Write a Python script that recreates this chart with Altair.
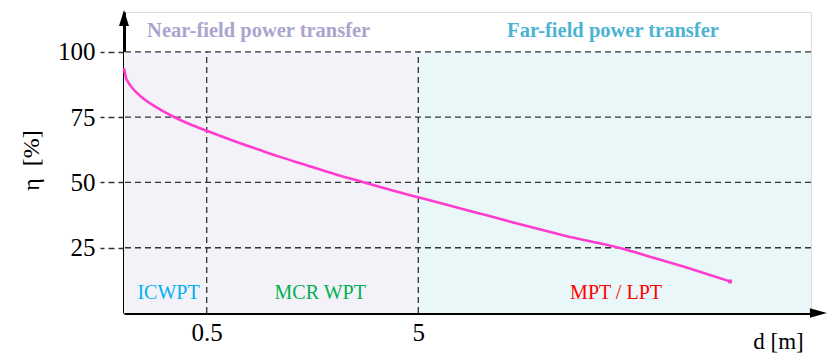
import altair as alt
import pandas as pd

# ---- data ----
d_vals = [0.2033, 0.2078, 0.2123, 0.2242, 0.2420, 0.2583, 0.2797, 0.3108, 0.3541, 0.4170,
          0.5, 0.6930, 0.8932, 1.1105, 1.4307, 2.058, 2.748, 3.674,
          5.0, 7.318, 10.525, 15.123, 21.73, 26.06, 30.68, 37.43, 44.89, 64.5, 92.7, 119.5, 148.6]
eta_vals = [93.8, 90.1, 88.5, 85.9, 83.2, 81.4, 79.5, 77.3, 74.9, 72.3,
            69.8, 65.5, 62.4, 59.8, 57.0, 53.0, 50.1, 47.2,
            44.3, 40.8, 37.4, 34.0, 30.7, 29.1, 27.9, 26.4, 24.9, 21.2, 17.4, 14.6, 12.1]

region_start = [0.2033, 5.0]
region_end = [5.0, 358.8]
region_top = [100, 100]
region_fill = ["#f3f2f9", "#e9f7f9"]

grid_y = [25, 50, 75, 100]
vline_x = [0.5, 5]

field_text = ["Near-field power transfer", "Far-field power transfer"]
field_x = [0.88, 41.6]
field_y = [108, 108]
field_color = ["#aaa5cc", "#4db3d2"]

tech_text = ["ICWPT", "MCR WPT", "MPT / LPT"]
tech_x = [0.33, 1.72, 43.0]
tech_y = [7.7, 7.7, 7.7]
tech_color = ["#00b0f0", "#00b050", "#ff0000"]

X_DOMAIN = [0.2033, 358.8]
Y_DOMAIN = [0, 115.3]
FONT = "Liberation Serif"
LINE_COLOR = "#ff3ccf"

xs = alt.Scale(type="log", domain=X_DOMAIN, nice=False)
ys = alt.Scale(domain=Y_DOMAIN, nice=False, zero=False)

ax_x = alt.Axis(
    values=vline_x, format="~g", ticks=False, grid=False,
    labelFont=FONT, labelFontSize=25, labelColor="black", labelPadding=7,
    domainColor="black", domainWidth=3,
    title="d [m]", titleFont=FONT, titleFontSize=23, titleFontWeight="normal",
    titleColor="black", titleX=654, titleY=28, titleAlign="center",
    titleBaseline="middle")
ax_y = alt.Axis(
    values=grid_y, grid=False, tickSize=24, tickDash=[6, 4], tickColor="#333333",
    tickWidth=1.3, labelFont=FONT, labelFontSize=25, labelColor="black",
    labelPadding=5, domainColor="black", domainWidth=3,
    title="η\u00a0 [%]", titleFont=FONT, titleFontSize=24,
    titleFontWeight="normal", titleColor="black", titleX=-93, titleY=148,
    titleAlign="center", titleBaseline="middle")


def X(field):
    return alt.X(field, scale=xs, axis=ax_x)


def Y(field):
    return alt.Y(field, scale=ys, axis=ax_y)


regions = pd.DataFrame({"x": region_start, "x1": region_end, "y1": region_top,
                        "y": [0, 0], "c": region_fill})
curve = pd.DataFrame({"x": d_vals, "y": eta_vals})
end_pt = curve.tail(1)
hgrid = pd.DataFrame({"y": grid_y})
vgrid = pd.DataFrame({"x": vline_x, "y": [0, 0], "y1": [100, 100]})
fields = pd.DataFrame({"t": field_text, "x": field_x, "y": field_y, "c": field_color})
techs = pd.DataFrame({"t": tech_text, "x": tech_x, "y": tech_y, "c": tech_color})
arrow_y = pd.DataFrame({"x": [X_DOMAIN[0]], "y": [113.0]})
arrow_x = pd.DataFrame({"x": [389.0], "y": [0.0]})

bg = alt.Chart(regions).mark_rect().encode(
    x=X("x:Q"), x2="x1:Q", y=Y("y:Q"), y2="y1:Q",
    color=alt.Color("c:N", scale=None),
)

hlines = alt.Chart(hgrid).mark_rule(strokeDash=[6, 4], color="#333333", strokeWidth=1.3).encode(
    y=Y("y:Q")
)

vlines = alt.Chart(vgrid).mark_rule(strokeDash=[6, 4], color="#333333", strokeWidth=1.3).encode(
    x=X("x:Q"), y=Y("y:Q"), y2="y1:Q",
)

line = alt.Chart(curve).mark_line(color=LINE_COLOR, strokeWidth=2.6, interpolate="monotone").encode(
    x=X("x:Q"), y=Y("y:Q"),
)

dot = alt.Chart(end_pt).mark_point(filled=True, color=LINE_COLOR, size=20, opacity=1).encode(
    x=X("x:Q"), y=Y("y:Q"),
)

field_txt = alt.Chart(fields).mark_text(font=FONT, fontSize=20.5, fontWeight="bold",
                                        baseline="middle", align="center").encode(
    x=X("x:Q"), y=Y("y:Q"), text="t:N",
    color=alt.Color("c:N", scale=None),
)

tech_txt = alt.Chart(techs).mark_text(font=FONT, fontSize=20, baseline="middle", align="center").encode(
    x=X("x:Q"), y=Y("y:Q"), text="t:N",
    color=alt.Color("c:N", scale=None),
)

arr_y = alt.Chart(arrow_y).mark_point(filled=True, color="black", opacity=1, size=256,
                                      strokeWidth=0, shape="M0,-1L0.62,1L-0.62,1Z").encode(
    x=X("x:Q"), y=Y("y:Q"),
)
arr_x = alt.Chart(arrow_x).mark_point(filled=True, color="black", opacity=1, size=289,
                                      strokeWidth=0, shape="M1,0L-1,-0.55L-1,0.55Z").encode(
    x=X("x:Q"), y=Y("y:Q"),
)

chart = alt.layer(bg, hlines, vlines, line, dot, field_txt, tech_txt, arr_y, arr_x).properties(
    width=687, height=301,
    autosize=alt.AutoSizeParams(type="none"),
    padding={"left": 124, "top": 12, "right": 20, "bottom": 41},
    background="white",
).configure_view(stroke=None).configure_axis(
    labelFont=FONT, titleFont=FONT
).configure(font=FONT)

chart.save("out.html", embed_options={"renderer": "svg", "actions": False})
